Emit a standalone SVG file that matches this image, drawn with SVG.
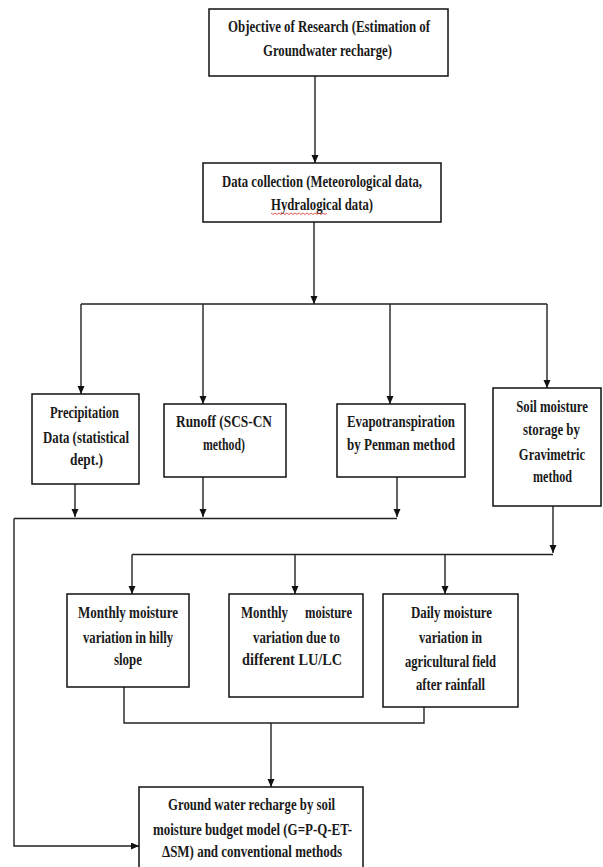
<svg xmlns="http://www.w3.org/2000/svg" width="603" height="867" viewBox="0 0 603 867">
<style>
.box{fill:#fff;stroke:#111;stroke-width:1.5}
.ln{fill:none;stroke:#222;stroke-width:1.4}
text{font-family:"Liberation Serif","Times New Roman",serif;font-size:17px;font-weight:bold;fill:#1a1a1a;text-anchor:middle}
</style>
<defs>
<marker id="ah" markerWidth="8" markerHeight="8" refX="8" refY="3.5" orient="auto" markerUnits="userSpaceOnUse">
<path d="M0,0 L8,3.5 L0,7 z" fill="#111"/>
</marker>
</defs>
<rect width="603" height="867" fill="#fff"/>
<g id="connectors">
<path class="ln" d="M315,76 V163" marker-end="url(#ah)"/>
<path class="ln" d="M314,222 V304" marker-end="url(#ah)"/>
<path class="ln" d="M81,304 H547"/>
<path class="ln" d="M81,304 V394" marker-end="url(#ah)"/>
<path class="ln" d="M203,304 V404" marker-end="url(#ah)"/>
<path class="ln" d="M390,304 V404" marker-end="url(#ah)"/>
<path class="ln" d="M547,304 V388" marker-end="url(#ah)"/>
<path class="ln" d="M75,484 V517" marker-end="url(#ah)"/>
<path class="ln" d="M203,477 V517" marker-end="url(#ah)"/>
<path class="ln" d="M397,477 V517" marker-end="url(#ah)"/>
<path class="ln" d="M14,518.5 H397"/>
<path class="ln" d="M14,518.5 V846 H139" marker-end="url(#ah)"/>
<path class="ln" d="M553,506 V553" marker-end="url(#ah)"/>
<path class="ln" d="M132,554.5 H553"/>
<path class="ln" d="M132,554.5 V594" marker-end="url(#ah)"/>
<path class="ln" d="M295,554.5 V594" marker-end="url(#ah)"/>
<path class="ln" d="M445,554.5 V594" marker-end="url(#ah)"/>
<path class="ln" d="M124,687 V723 H424 V707"/>
<path class="ln" d="M271,723 V787" marker-end="url(#ah)"/>
</g>
<g id="objective">
<rect class="box" x="209" y="9" width="239" height="67"/>
<text x="329" y="32" textLength="202" lengthAdjust="spacingAndGlyphs">Objective of Research (Estimation of</text>
<text x="327.5" y="56" textLength="129" lengthAdjust="spacingAndGlyphs">Groundwater recharge)</text>
</g>
<g id="data-collection">
<rect class="box" x="203" y="163" width="238" height="59"/>
<text x="322" y="187" textLength="200" lengthAdjust="spacingAndGlyphs">Data collection (Meteorological data,</text>
<text x="322" y="210" textLength="102" lengthAdjust="spacingAndGlyphs">Hydralogical data)</text>
<path d="M271,213 l2,1.5 l2,-1.5 l2,1.5 l2,-1.5 l2,1.5 l2,-1.5 l2,1.5 l2,-1.5 l2,1.5 l2,-1.5 l2,1.5 l2,-1.5 l2,1.5 l2,-1.5 l2,1.5 l2,-1.5 l2,1.5 l2,-1.5 l2,1.5 l2,-1.5 l2,1.5 l2,-1.5 l2,1.5 l2,-1.5 l2,1.5 l2,-1.5 l2,1.5 l2,-1.5" fill="none" stroke="#e03030" stroke-width="0.8"/>
</g>
<g id="precipitation">
<rect class="box" x="32" y="394" width="107" height="90"/>
<text x="84.5" y="418" textLength="69" lengthAdjust="spacingAndGlyphs">Precipitation</text>
<text x="86" y="443" textLength="86" lengthAdjust="spacingAndGlyphs">Data (statistical</text>
<text x="86.5" y="465" textLength="33" lengthAdjust="spacingAndGlyphs">dept.)</text>
</g>
<g id="runoff">
<rect class="box" x="164" y="404" width="122" height="73"/>
<text x="224" y="427" textLength="96" lengthAdjust="spacingAndGlyphs">Runoff (SCS-CN</text>
<text x="224" y="450" textLength="42" lengthAdjust="spacingAndGlyphs" font-weight="normal">method)</text>
</g>
<g id="evapotranspiration">
<rect class="box" x="337" y="404" width="128" height="73"/>
<text x="401" y="427" textLength="108" lengthAdjust="spacingAndGlyphs">Evapotranspiration</text>
<text x="401" y="450" textLength="108" lengthAdjust="spacingAndGlyphs">by Penman method</text>
</g>
<g id="soil-moisture">
<rect class="box" x="493" y="388" width="108" height="118"/>
<text transform="translate(552,412) scale(0.75,1)">Soil moisture</text>
<text transform="translate(551.5,435) scale(0.76,1)">storage by</text>
<text transform="translate(552,460) scale(0.74,1)">Gravimetric</text>
<text transform="translate(552.5,482) scale(0.71,1)">method</text>
</g>
<g id="monthly-hilly">
<rect class="box" x="67" y="594" width="122" height="93"/>
<text x="128" y="618" textLength="100" lengthAdjust="spacingAndGlyphs">Monthly moisture</text>
<text x="128" y="643" textLength="90" lengthAdjust="spacingAndGlyphs">variation in hilly</text>
<text x="128" y="665" textLength="28" lengthAdjust="spacingAndGlyphs">slope</text>
</g>
<g id="monthly-lulc">
<rect class="box" x="229" y="594" width="134" height="103"/>
<text x="264.5" y="618" textLength="47" lengthAdjust="spacingAndGlyphs">Monthly</text>
<text x="328.5" y="618" textLength="47" lengthAdjust="spacingAndGlyphs">moisture</text>
<text x="296.5" y="643" textLength="87" lengthAdjust="spacingAndGlyphs">variation due to</text>
<text x="292" y="665" textLength="100" lengthAdjust="spacingAndGlyphs">different LU/LC</text>
</g>
<g id="daily-agri">
<rect class="box" x="383" y="594" width="135" height="113"/>
<text x="451.5" y="618" textLength="81" lengthAdjust="spacingAndGlyphs">Daily moisture</text>
<text x="450.5" y="643" textLength="63" lengthAdjust="spacingAndGlyphs">variation in</text>
<text x="450.5" y="667" textLength="91" lengthAdjust="spacingAndGlyphs">agricultural field</text>
<text x="450.5" y="690" textLength="69" lengthAdjust="spacingAndGlyphs">after rainfall</text>
</g>
<g id="groundwater-recharge">
<rect class="box" x="139" y="787" width="224" height="90"/>
<text x="251.5" y="810" textLength="167" lengthAdjust="spacingAndGlyphs">Ground water recharge by soil</text>
<text x="252.5" y="835" textLength="199" lengthAdjust="spacingAndGlyphs">moisture budget model (G=P-Q-ET-</text>
<text x="252" y="857" textLength="180" lengthAdjust="spacingAndGlyphs">ΔSM) and conventional methods</text>
</g>
</svg>
